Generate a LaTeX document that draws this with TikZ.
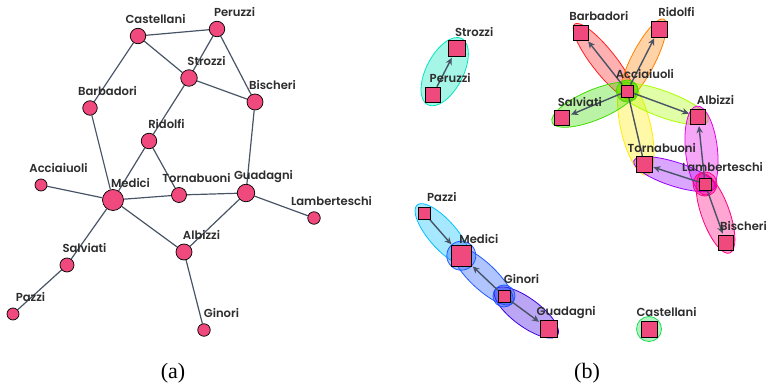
\documentclass[tikz,border=0pt]{standalone}
\usepackage{fontspec}
\usetikzlibrary{shapes.geometric,arrows.meta,calc}
\newfontfamily\lblfont{Poppins}[UprightFont=* SemiBold]
\newfontfamily\capfont{Liberation Serif}
\definecolor{nodepink}{RGB}{240,73,126}
\definecolor{edgec}{RGB}{72,84,102}
\definecolor{labelc}{RGB}{45,45,45}
\definecolor{cyanH}{RGB}{0,230,190}
\definecolor{redH}{RGB}{255,30,30}
\definecolor{orangeH}{RGB}{255,128,0}
\definecolor{greenH}{RGB}{60,220,0}
\definecolor{chartH}{RGB}{170,255,0}
\definecolor{yellowH}{RGB}{255,235,0}
\definecolor{magH}{RGB}{230,0,230}
\definecolor{purpH}{RGB}{150,0,255}
\definecolor{dpinkH}{RGB}{255,0,128}
\definecolor{skyH}{RGB}{0,190,255}
\definecolor{blueH}{RGB}{30,90,255}
\definecolor{sblueH}{RGB}{60,0,230}
\definecolor{castH}{RGB}{30,220,80}
\pgfdeclarelayer{bg}
\pgfsetlayers{bg,main}
\tikzset{
  anode/.style={circle, draw=black, line width=0.7pt, fill=nodepink, inner sep=0pt, minimum size=#1},
  bnode/.style={rectangle, draw=black, line width=0.8pt, fill=nodepink, inner sep=0pt, minimum size=#1},
  lbl/.style={font=\lblfont\fontsize{11.6}{12}\selectfont, text=labelc, inner sep=0pt},
  aedge/.style={draw=edgec, line width=1.2pt},
  barrow/.style={draw=edgec, line width=1.4pt, -{Stealth[length=7pt,width=6.5pt]}, shorten >=1pt},
  bline/.style={draw=edgec, line width=1.4pt},
  hyp/.style={ellipse, draw=#1, fill=#1, fill opacity=0.35, line width=0.8pt, inner sep=0pt},
  captext/.style={font=\capfont\fontsize{22}{24}\selectfont, inner sep=0pt}
}
\newcommand\hyperell[5]{%
  \path let \p1=($(#4)-(#3)$), \n1={atan2(\y1,\x1)}, \n2={veclen(\x1,\y1)+22pt} in
    ($(#3)!0.5!(#4)$) node[hyp=#2, minimum width=\n2, minimum height=#5pt, rotate=\n1] (#1) {};}
\newcommand\lab[2]{\node[lbl] (#1L) at ($(#1)+(17.5,-16.5)$) {#2};}
\begin{document}
\begin{tikzpicture}[x=1pt,y=-1pt]
\useasboundingbox (0,0) rectangle (768,390);
% ---------------- panel (a)
\node[anode=15.5pt] (aCas) at (138,36) {};
\node[anode=15.5pt] (aPer) at (217,29) {};
\node[anode=16.5pt] (aStr) at (189,78) {};
\node[anode=16pt] (aBis) at (255,102) {};
\node[anode=14.5pt] (aBar) at (90,108) {};
\node[anode=15.5pt] (aRid) at (149,141) {};
\node[anode=12pt] (aAcc) at (41,185) {};
\node[anode=21pt] (aMed) at (113,200) {};
\node[anode=15pt] (aTor) at (179,195) {};
\node[anode=17.5pt] (aGua) at (246,193) {};
\node[anode=12.5pt] (aLam) at (314,218) {};
\node[anode=16pt] (aAlb) at (184,252) {};
\node[anode=14pt] (aSal) at (67,265) {};
\node[anode=12pt] (aPaz) at (13,314) {};
\node[anode=12.5pt] (aGin) at (204,330) {};
\lab{aCas}{Castellani}
\lab{aPer}{Peruzzi}
\lab{aStr}{Strozzi}
\lab{aBis}{Bischeri}
\lab{aBar}{Barbadori}
\lab{aRid}{Ridolfi}
\lab{aAcc}{Acciaiuoli}
\lab{aMed}{Medici}
\lab{aTor}{Tornabuoni}
\lab{aGua}{Guadagni}
\lab{aLam}{Lamberteschi}
\lab{aAlb}{Albizzi}
\lab{aSal}{Salviati}
\lab{aPaz}{Pazzi}
\lab{aGin}{Ginori}
\begin{pgfonlayer}{bg}
\draw[aedge] (aCas) -- (aPer);
\draw[aedge] (aCas) -- (aStr);
\draw[aedge] (aCas) -- (aBar);
\draw[aedge] (aPer) -- (aStr);
\draw[aedge] (aPer) -- (aBis);
\draw[aedge] (aStr) -- (aBis);
\draw[aedge] (aStr) -- (aRid);
\draw[aedge] (aBis) -- (aGua);
\draw[aedge] (aBar) -- (aMed);
\draw[aedge] (aRid) -- (aMed);
\draw[aedge] (aRid) -- (aTor);
\draw[aedge] (aAcc) -- (aMed);
\draw[aedge] (aMed) -- (aTor);
\draw[aedge] (aTor) -- (aGua);
\draw[aedge] (aMed) -- (aAlb);
\draw[aedge] (aMed) -- (aSal);
\draw[aedge] (aSal) -- (aPaz);
\draw[aedge] (aGua) -- (aAlb);
\draw[aedge] (aGua) -- (aLam);
\draw[aedge] (aAlb) -- (aGin);
\end{pgfonlayer}
\node[captext] (capA) at (173,373) {(a)};
% ---------------- panel (b)
\node[bnode=16.5pt] (bStr) at (456.7,48.3) {};
\node[bnode=15.5pt] (bPer) at (432.7,95) {};
\node[bnode=15pt] (bBar) at (581.3,32.7) {};
\node[bnode=16pt] (bRid) at (659,29) {};
\node[bnode=12pt] (bAcc) at (627.3,91) {};
\node[bnode=15pt] (bSal) at (562.3,118.3) {};
\node[bnode=15.5pt] (bAlb) at (698,117) {};
\node[bnode=15.5pt] (bTor) at (644.3,164.3) {};
\node[bnode=12pt] (bLam) at (705,184) {};
\node[bnode=15.5pt] (bBis) at (726,242.7) {};
\node[bnode=12pt] (bPaz) at (424.3,213.3) {};
\node[bnode=20.5pt] (bMed) at (461.3,255.7) {};
\node[bnode=12pt] (bGin) at (504,296) {};
\node[bnode=17pt] (bGua) at (548.7,329) {};
\node[bnode=16pt] (bCas) at (649,329) {};
\lab{bStr}{Strozzi}
\lab{bPer}{Peruzzi}
\lab{bBar}{Barbadori}
\lab{bRid}{Ridolfi}
\lab{bAcc}{Acciaiuoli}
\lab{bSal}{Salviati}
\lab{bAlb}{Albizzi}
\lab{bTor}{Tornabuoni}
\lab{bLam}{Lamberteschi}
\lab{bBis}{Bischeri}
\lab{bPaz}{Pazzi}
\lab{bMed}{Medici}
\lab{bGin}{Ginori}
\lab{bGua}{Guadagni}
\lab{bCas}{Castellani}
\begin{pgfonlayer}{bg}
\hyperell{hPS}{cyanH}{bPer}{bStr}{37}
\hyperell{hAB}{redH}{bAcc}{bBar}{24}
\hyperell{hAR}{orangeH}{bAcc}{bRid}{24}
\hyperell{hAT}{yellowH}{bAcc}{bTor}{30}
\hyperell{hAAl}{chartH}{bAcc}{bAlb}{26}
\hyperell{hAS}{greenH}{bAcc}{bSal}{30}
\node[hyp=greenH, circle, minimum size=22pt] (cAcc) at (bAcc) {};
\hyperell{hLA}{magH}{bLam}{bAlb}{32}
\hyperell{hLT}{purpH}{bLam}{bTor}{24}
\hyperell{hLB}{dpinkH}{bLam}{bBis}{28}
\node[hyp=dpinkH, circle, minimum size=24pt] (cLam) at (bLam) {};
\hyperell{hPM}{skyH}{bPaz}{bMed}{28}
\hyperell{hMG}{blueH}{bMed}{bGin}{26}
\hyperell{hGG}{sblueH}{bGin}{bGua}{28}
\node[hyp=blueH, circle, minimum size=29pt] (cMed) at (bMed) {};
\node[hyp=blueH, circle, minimum size=22pt] (cGin) at (bGin) {};
\node[hyp=castH, circle, minimum size=25pt] (cCas) at (bCas) {};
\draw[barrow] (bPer) -- (bStr);
\draw[barrow] (bAcc) -- (bBar);
\draw[barrow] (bAcc) -- (bRid);
\draw[barrow] (bAcc) -- (bSal);
\draw[barrow] (bAcc) -- (bAlb);
\draw[bline] (bAcc) -- (bTor);
\draw[barrow] (bLam) -- (bTor);
\draw[barrow] (bLam) -- (bAlb);
\draw[barrow] (bLam) -- (bBis);
\draw[barrow] (bPaz) -- (bMed);
\draw[barrow] (bGin) -- (bMed);
\draw[barrow] (bGin) -- (bGua);
\end{pgfonlayer}
\node[captext] (capB) at (587,373) {(b)};
\end{tikzpicture}
\end{document}
